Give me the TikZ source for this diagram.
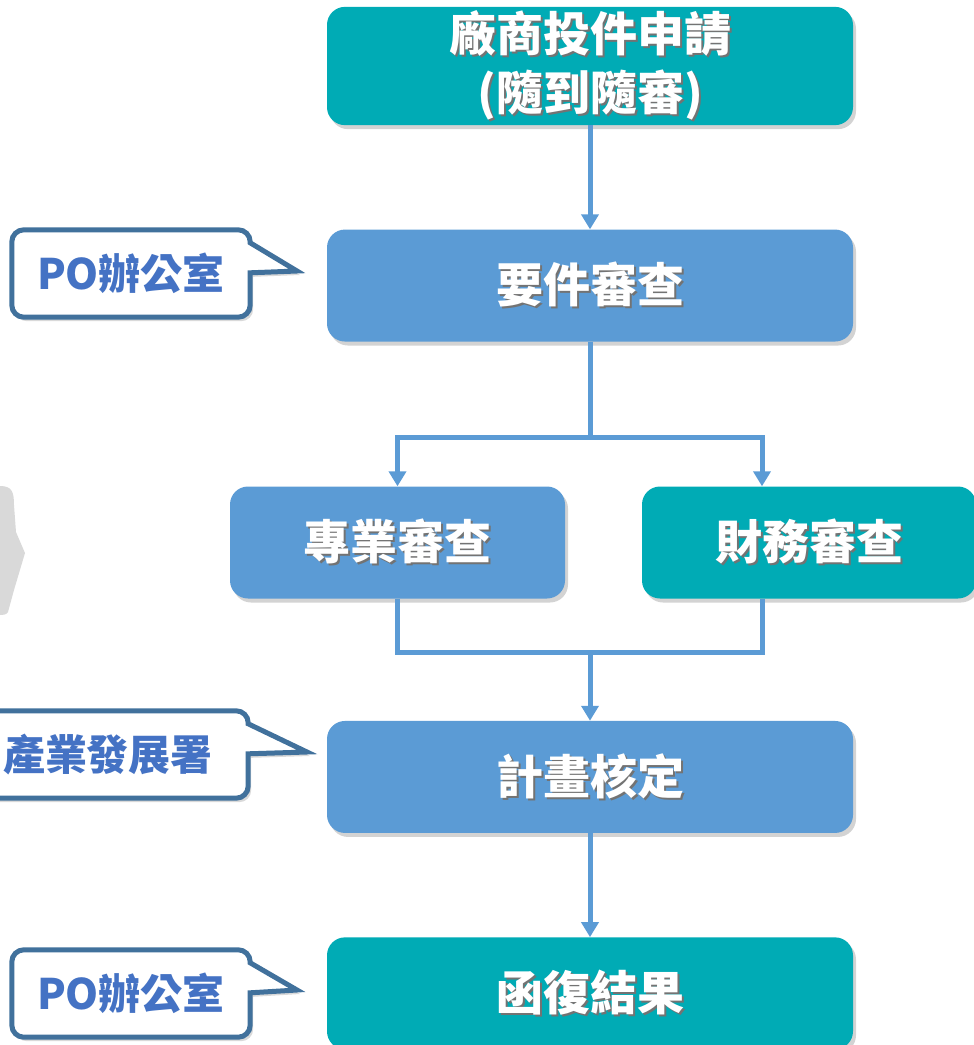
\documentclass[tikz,border=0pt]{standalone}
\usepackage{fontspec}
\setmainfont{Noto Sans CJK TC}
\usetikzlibrary{
    arrows.meta,
    positioning,
    shadows,
    backgrounds
}
\definecolor{tealbox}{HTML}{00ABB5}
\definecolor{bluebox}{HTML}{5B9BD5}
\definecolor{calloutedge}{HTML}{41719C}
\definecolor{callouttext}{HTML}{4472C4}
\newcommand{\shadowed}[1]{\leavevmode\rlap{\kern2pt\raisebox{-2pt}{\textcolor{black!55}{#1}}}#1}

\begin{document}
\begin{tikzpicture}[
    x=1pt, y=-1pt,
    stepbox/.style = {rectangle, rounded corners=18pt, text=white,
                      minimum width=526pt, minimum height=112pt,
                      font=\fontsize{47}{59}\selectfont\bfseries, align=center,
                      drop shadow={shadow xshift=3pt, shadow yshift=-4pt, opacity=0.35}},
    tealnode/.style = {stepbox, fill=tealbox},
    bluenode/.style = {stepbox, fill=bluebox},
    flowline/.style = {draw=bluebox, line width=5pt},
    flowarrow/.style = {flowline, -{Triangle[width=17pt, length=15pt]}},
    calloutnode/.style = {rectangle, minimum height=87pt, minimum width=238pt,
                          text=callouttext, font=\fontsize{42}{50}\selectfont\bfseries},
    calloutline/.style = {draw=calloutedge, line width=5pt, fill=white,
                          drop shadow={shadow xshift=3pt, shadow yshift=-4pt, opacity=0.3}}
]
    \useasboundingbox (0,0) rectangle (974,1045);

    % main flow
    \node[tealnode] (apply) at (590,66) {\shadowed{廠商投件申請}\\\shadowed{(隨到隨審)}};
    \node[bluenode] (check) [below=104pt of apply] {\shadowed{要件審查}};
    \node[bluenode, minimum width=335pt] (tech) at (397.5,542.5) {\shadowed{專業審查}};
    \node[tealnode, minimum width=334pt] (fin) at (809,542.5) {\shadowed{財務審查}};
    \node[bluenode] (plan) [below=379pt of check] {\shadowed{計畫核定}};
    \node[tealnode] (reply) [below=104pt of plan] {\shadowed{函復結果}};

    \coordinate (fork) at (590,437);
    \coordinate (forkR) at (762,437);
    \coordinate (merge) at (590,652);

    \draw[flowarrow] (apply.south) -- (check.north);
    \draw[flowline] (check.south) -- (fork);
    \draw[flowarrow] (fork) -| (tech.north);
    \draw[flowarrow] (fork) -| (fin.north -| forkR);
    \draw[flowline] (tech.south) |- (merge) -| (fin.south -| forkR);
    \draw[flowarrow] (merge) -- (plan.north);
    \draw[flowarrow] (plan.south) -- (reply.north);

    % callouts
    \node[calloutnode] (office1) at (131,273.5) {PO辦公室};
    \node[calloutnode, minimum width=280pt] (bureau) at (108,754.5) {產業發展署};
    \node[calloutnode] (office2) at (131,993.5) {PO辦公室};
    \coordinate (tip1) at (297,271);
    \coordinate (tip2) at (307,752);
    \coordinate (tip3) at (297,990);

    \begin{scope}[on background layer]
        \foreach \callout/\tip in {office1/tip1, bureau/tip2, office2/tip3} {
            \draw[calloutline] (\tip) -- ([yshift=-43pt]\callout.north east)
                [rounded corners=12pt] -- (\callout.south east) -- (\callout.south west)
                -- (\callout.north west) -- (\callout.north east)
                [sharp corners] -- ([yshift=-13pt]\callout.north east) -- cycle;
        }
        % grey shape at the left edge
        \fill[black!15] (0,486) .. controls (12,486) and (14,492) .. (14,505)
            -- (16,532) -- (25,553) -- (14,590) -- (8,612)
            .. controls (6,615) and (3,615) .. (0,615) -- cycle;
    \end{scope}

\end{tikzpicture}
\end{document}
